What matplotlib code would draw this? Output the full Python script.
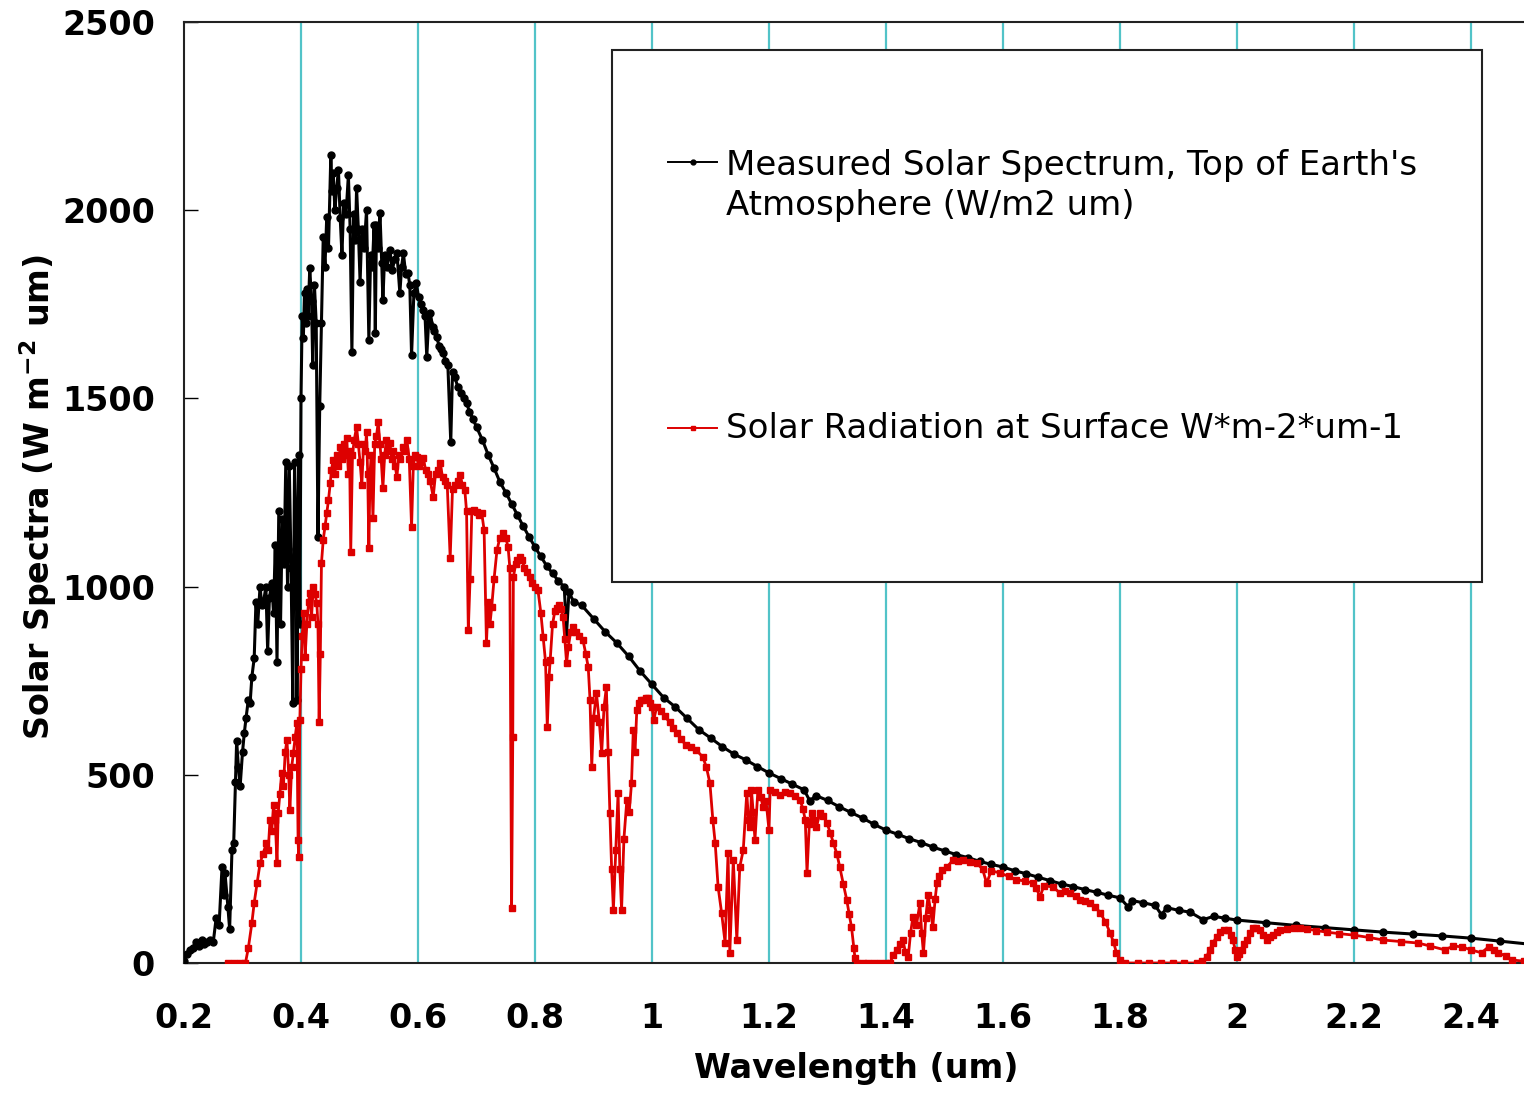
import matplotlib
matplotlib.use("Agg")
import matplotlib.pyplot as plt
from matplotlib.patches import Rectangle
from matplotlib.lines import Line2D

# top of atmosphere spectrum
toa_wl = [0.200, 0.205, 0.210, 0.215, 0.220, 0.225, 0.230, 0.235, 0.240, 0.245,
          0.250, 0.255, 0.260, 0.265, 0.268, 0.270, 0.275, 0.278, 0.282, 0.285,
          0.288, 0.290, 0.293, 0.296, 0.300, 0.303, 0.306, 0.310, 0.313, 0.316,
          0.320, 0.323, 0.326, 0.330, 0.333, 0.336, 0.340, 0.343, 0.346, 0.350,
          0.353, 0.356, 0.359, 0.362, 0.365, 0.368, 0.371, 0.374, 0.377, 0.380,
          0.383, 0.386, 0.389, 0.392, 0.393, 0.396, 0.398,
          0.400, 0.402, 0.404, 0.406, 0.408, 0.410, 0.412, 0.415, 0.418, 0.420,
          0.423, 0.426, 0.429, 0.432, 0.435, 0.438, 0.441, 0.444, 0.447, 0.451,
          0.453, 0.455, 0.458, 0.461, 0.464, 0.467, 0.470, 0.473, 0.477, 0.481,
          0.484, 0.487, 0.490, 0.493, 0.495, 0.498, 0.501, 0.504, 0.508, 0.512,
          0.516, 0.519, 0.522, 0.525, 0.527, 0.529, 0.532, 0.535, 0.538, 0.540,
          0.543, 0.547, 0.552, 0.556, 0.560, 0.564, 0.569, 0.572, 0.575, 0.579,
          0.583, 0.586, 0.589, 0.593, 0.597, 0.601, 0.605, 0.609, 0.612, 0.615,
          0.618, 0.621, 0.625, 0.628, 0.632, 0.636, 0.640, 0.643, 0.647, 0.651,
          0.656, 0.659, 0.663, 0.668, 0.673, 0.678, 0.683, 0.688, 0.694,
          0.70, 0.71, 0.72, 0.73, 0.74, 0.75, 0.76, 0.77, 0.78, 0.79,
          0.80, 0.81, 0.82, 0.83, 0.84, 0.85, 0.854, 0.858, 0.866, 0.88,
          0.90, 0.92, 0.94, 0.96, 0.98, 1.00, 1.02, 1.04, 1.06, 1.08,
          1.10, 1.12, 1.14, 1.16, 1.18, 1.20, 1.22, 1.24, 1.26, 1.27,
          1.28, 1.30, 1.32, 1.34, 1.36, 1.38, 1.40, 1.42, 1.44, 1.46,
          1.48, 1.50, 1.52, 1.54, 1.56, 1.58, 1.60, 1.62, 1.64, 1.66,
          1.68, 1.70, 1.72, 1.74, 1.76, 1.78, 1.80, 1.814, 1.82, 1.84,
          1.86, 1.871, 1.88, 1.90, 1.92, 1.942, 1.96, 1.98, 2.00, 2.05,
          2.10, 2.15, 2.20, 2.25, 2.30, 2.35, 2.40, 2.45, 2.50]
toa_val = [5, 25, 35, 40, 55, 45, 60, 50, 55, 60,
           55, 120, 100, 255, 180, 240, 150, 90, 300, 320,
           480, 590, 520, 470, 560, 610, 650, 700, 690, 760,
           810, 960, 900, 1000, 950, 960, 1000, 830, 970, 1010,
           930, 1110, 800, 1200, 900, 1180, 1060, 1330, 1000, 1320,
           1050, 690, 1330, 1100, 700, 1350, 900,
           1500, 1720, 1660, 1780, 1700, 1790, 1720, 1846, 1760, 1590,
           1800, 1700, 1132, 1480, 1700, 1929, 1850, 1982, 1900, 2147,
           2050, 2099, 2000, 2060, 2107, 1980, 1881, 2020, 1990, 2093,
           1950, 1623, 1990, 1920, 2059, 1950, 1809, 1950, 1900, 2000,
           1655, 1880, 1850, 1960, 1674, 1960, 1900, 1993, 1860, 1761,
           1880, 1850, 1894, 1840, 1870, 1886, 1780, 1850, 1886, 1830,
           1833, 1800, 1615, 1780, 1806, 1770, 1750, 1735, 1720, 1610,
           1700, 1727, 1690, 1680, 1663, 1640, 1630, 1621, 1600, 1590,
           1384, 1570, 1557, 1530, 1515, 1500, 1488, 1465, 1445,
           1424, 1390, 1350, 1315, 1278, 1250, 1220, 1190, 1160, 1132,
           1105, 1080, 1055, 1035, 1015, 999, 877, 985, 960, 950,
           915, 880, 850, 815, 775, 740, 705, 680, 650, 620,
           598, 575, 555, 540, 522, 505, 490, 475, 460, 430,
           445, 432, 415, 400, 385, 368, 353, 342, 330, 320,
           308, 298, 288, 280, 270, 262, 255, 245, 237, 228,
           219, 210, 203, 195, 188, 180, 173, 149, 166, 160,
           153, 128, 147, 140, 135, 115, 124, 119, 114, 107,
           100, 94, 88, 82, 77, 72, 66, 58, 50]

# surface spectrum
sfc_wl = [0.275, 0.285, 0.295, 0.305, 0.310, 0.316, 0.320, 0.325, 0.330, 0.335,
          0.341, 0.344, 0.347, 0.350, 0.353, 0.356, 0.359, 0.361, 0.364, 0.367,
          0.370, 0.373, 0.376, 0.379, 0.381, 0.384, 0.387, 0.390, 0.393, 0.395,
          0.396, 0.398, 0.400, 0.402, 0.405, 0.407, 0.410, 0.413, 0.415, 0.418,
          0.421, 0.424, 0.427, 0.429, 0.431, 0.433, 0.435, 0.438, 0.441, 0.444,
          0.447, 0.450, 0.452, 0.455, 0.458, 0.461, 0.464, 0.467, 0.470, 0.473,
          0.476, 0.478, 0.481, 0.483, 0.485, 0.488, 0.491, 0.495, 0.498, 0.501,
          0.504, 0.507, 0.510, 0.512, 0.514, 0.516, 0.518, 0.520, 0.523, 0.526,
          0.529, 0.532, 0.535, 0.537, 0.540, 0.543, 0.546, 0.549, 0.552, 0.555,
          0.558, 0.561, 0.564, 0.567, 0.570, 0.574, 0.577, 0.581, 0.585, 0.589,
          0.592, 0.595, 0.598, 0.601, 0.605, 0.609, 0.613, 0.617, 0.621, 0.626,
          0.630, 0.634, 0.638, 0.642, 0.646, 0.650, 0.655, 0.659, 0.663, 0.668,
          0.672, 0.676, 0.680, 0.683, 0.686, 0.689, 0.692, 0.695, 0.700, 0.705,
          0.709, 0.713, 0.717, 0.720, 0.723, 0.726, 0.730, 0.735, 0.740, 0.745,
          0.750, 0.754, 0.757, 0.760, 0.762, 0.763, 0.767, 0.770, 0.774, 0.778,
          0.782, 0.786, 0.791, 0.795, 0.800, 0.805, 0.810, 0.814, 0.818, 0.821,
          0.824, 0.826, 0.830, 0.834, 0.837, 0.841, 0.845, 0.848, 0.851, 0.854,
          0.857, 0.861, 0.865, 0.870, 0.875, 0.882, 0.887, 0.891, 0.894, 0.897,
          0.900, 0.905, 0.910, 0.914, 0.918, 0.922, 0.925, 0.928, 0.931, 0.934,
          0.938, 0.942, 0.945, 0.948, 0.952, 0.957, 0.961, 0.965, 0.968, 0.971,
          0.974, 0.978, 0.981, 0.985, 0.989, 0.993, 0.997, 1.000, 1.003, 1.008,
          1.015, 1.022, 1.030, 1.036, 1.042, 1.050, 1.058, 1.066, 1.076, 1.087,
          1.093, 1.099, 1.104, 1.108, 1.113, 1.119, 1.125, 1.130, 1.133, 1.139,
          1.145, 1.150, 1.156, 1.162, 1.165, 1.168, 1.170, 1.173, 1.176, 1.181,
          1.186, 1.190, 1.195, 1.200, 1.202, 1.210, 1.219, 1.228, 1.236, 1.245,
          1.253, 1.258, 1.262, 1.265, 1.269, 1.273, 1.277, 1.281, 1.287, 1.293,
          1.299, 1.305, 1.310, 1.316, 1.321, 1.327, 1.333, 1.337, 1.341, 1.345,
          1.347, 1.350, 1.360, 1.370, 1.380, 1.390, 1.400, 1.407, 1.412, 1.418,
          1.424, 1.429, 1.433, 1.438, 1.442, 1.446, 1.452, 1.458, 1.461, 1.464,
          1.468, 1.472, 1.476, 1.480, 1.484, 1.487, 1.491, 1.495, 1.504, 1.515,
          1.523, 1.532, 1.543, 1.555, 1.565, 1.572, 1.580, 1.595, 1.610, 1.623,
          1.637, 1.651, 1.657, 1.663, 1.670, 1.686, 1.697, 1.706, 1.715, 1.724,
          1.732, 1.741, 1.749, 1.758, 1.766, 1.775, 1.783, 1.789, 1.794, 1.800,
          1.808, 1.830, 1.850, 1.870, 1.890, 1.910, 1.931, 1.940, 1.948, 1.953,
          1.959, 1.965, 1.971, 1.978, 1.985, 1.990, 1.993, 1.997, 2.000, 2.004,
          2.008, 2.012, 2.017, 2.022, 2.028, 2.033, 2.039, 2.045, 2.051, 2.056,
          2.062, 2.068, 2.074, 2.085, 2.097, 2.108, 2.120, 2.135, 2.153, 2.175,
          2.200, 2.225, 2.250, 2.280, 2.310, 2.330, 2.355, 2.370, 2.384, 2.400,
          2.418, 2.430, 2.440, 2.447, 2.460, 2.470, 2.490]
sfc_val = [0, 0, 0, 0, 40, 106, 160, 212, 265, 290,
           319, 300, 380, 350, 420, 380, 265, 398, 450, 505,
           470, 560, 592, 500, 406, 520, 558, 600, 638, 327,
           282, 645, 780, 870, 930, 813, 900, 960, 983, 920,
           999, 980, 956, 900, 640, 820, 1063, 1124, 1160, 1195,
           1230, 1275, 1310, 1336, 1300, 1350, 1320, 1371, 1340, 1380,
           1350, 1395, 1300, 1360, 1092, 1350, 1390, 1424, 1380, 1330,
           1270, 1380, 1360, 1411, 1300, 1103, 1300, 1350, 1182, 1380,
           1400, 1437, 1380, 1340, 1262, 1350, 1390, 1360, 1381, 1340,
           1360, 1320, 1291, 1350, 1340, 1370, 1360, 1389, 1340, 1158,
           1320, 1350, 1344, 1320, 1330, 1342, 1310, 1300, 1280, 1238,
           1300, 1310, 1328, 1290, 1280, 1270, 1076, 1260, 1270, 1280,
           1296, 1270, 1257, 1200, 885, 1020, 1200, 1204, 1198, 1190,
           1195, 1150, 850, 960, 900, 946, 1020, 1097, 1130, 1142,
           1130, 1105, 1050, 146, 600, 1025, 1060, 1070, 1079, 1070,
           1050, 1040, 1025, 1010, 1000, 991, 930, 866, 800, 627,
           760, 805, 900, 935, 943, 950, 940, 919, 860, 797,
           840, 880, 893, 880, 870, 858, 820, 786, 700, 521,
           650, 717, 640, 558, 680, 733, 560, 398, 250, 141,
           300, 452, 250, 141, 330, 433, 400, 478, 619, 560,
           672, 690, 700, 699, 705, 704, 690, 680, 646, 680,
           670, 655, 640, 625, 611, 595, 578, 575, 565, 547,
           520, 478, 380, 319, 202, 133, 53, 292, 27, 274,
           61, 255, 300, 452, 380, 361, 460, 400, 327, 460,
           440, 414, 430, 353, 460, 455, 446, 455, 452, 445,
           433, 410, 380, 239, 370, 398, 380, 361, 398, 390,
           372, 345, 319, 290, 255, 210, 167, 130, 96, 40,
           13, 0, 0, 0, 0, 0, 0, 0, 20, 35,
           50, 61, 30, 16, 80, 122, 100, 159, 80, 27,
           120, 181, 140, 96, 170, 212, 230, 247, 255, 274,
           270, 274, 268, 265, 250, 212, 245, 239, 230, 221,
           218, 212, 200, 175, 205, 202, 186, 190, 186, 178,
           167, 165, 159, 150, 133, 110, 80, 55, 27, 8,
           0, 0, 0, 0, 0, 0, 0, 5, 16, 35,
           53, 70, 82, 88, 88, 75, 61, 35, 16, 25,
           35, 50, 61, 80, 93, 92, 88, 75, 61, 68,
           74, 82, 88, 90, 92, 93, 90, 86, 82, 78,
           74, 68, 61, 57, 53, 45, 35, 45, 43, 35,
           27, 43, 35, 27, 18, 8, 5]

toa_label = "Measured Solar Spectrum, Top of Earth's\nAtmosphere (W/m2 um)"
sfc_label = "Solar Radiation at Surface W*m-2*um-1"
x_ticks = [0.2, 0.4, 0.6, 0.8, 1.0, 1.2, 1.4, 1.6, 1.8, 2.0, 2.2, 2.4]
x_ticklabels = ["0.2", "0.4", "0.6", "0.8", "1", "1.2", "1.4", "1.6", "1.8", "2", "2.2", "2.4"]
y_ticks = [0, 500, 1000, 1500, 2000, 2500]

grid_col = "#52c3c8"
red = "#dd0000"

fig = plt.figure(figsize=(15.24, 10.93), dpi=100)
ax = fig.add_axes([184 / 1524, 130 / 1093, 1345.5 / 1524, 941 / 1093])

for xv in x_ticks[1:]:
    ax.axvline(xv, color=grid_col, lw=1.6, zorder=0)

ax.plot(toa_wl, toa_val, color="black", lw=2.2, marker="o", ms=5, zorder=3)
ax.plot(sfc_wl, sfc_val, color=red, lw=2.0, marker="s", ms=4.5, zorder=4)

ax.set_xlim(0.2, 2.5)
ax.set_ylim(0, 2500)
ax.set_xticks(x_ticks)
ax.set_xticklabels(x_ticklabels)
ax.set_yticks(y_ticks)
ax.tick_params(axis="x", length=0, pad=28, labelsize=24)
ax.tick_params(axis="y", direction="in", length=10, width=1, pad=21, labelsize=24)
for lab in ax.get_xticklabels() + ax.get_yticklabels():
    lab.set_fontweight("bold")
for s in ax.spines.values():
    s.set_linewidth(1.5)
    s.set_color("#222222")

ax.set_xlabel("Wavelength (um)", fontsize=24, fontweight="bold", labelpad=12)
fig.text(38 / 1524, 1 - 497 / 1093, "Solar Spectra (W m$^{\\mathbf{-2}}$ um)", rotation=90,
         fontsize=24, fontweight="bold", ha="center", va="center")

# legend box drawn by hand to keep the original spacing
ax.add_patch(Rectangle((0.318, 0.405), 0.647, 0.565, transform=ax.transAxes,
                       facecolor="white", edgecolor="#222222", lw=1.5, zorder=10))
ax.add_line(Line2D([0.3595, 0.396], [0.851, 0.851], transform=ax.transAxes,
                   color="black", lw=1.4, zorder=11))
ax.add_line(Line2D([0.378], [0.851], transform=ax.transAxes, color="black",
                   marker="o", ms=3.5, zorder=11))
ax.text(0.403, 0.8265, toa_label, transform=ax.transAxes, fontsize=24.5,
        va="center", ha="left", linespacing=1.25, zorder=11)
ax.add_line(Line2D([0.3595, 0.396], [0.5685, 0.5685], transform=ax.transAxes,
                   color=red, lw=1.4, zorder=11))
ax.add_line(Line2D([0.378], [0.5685], transform=ax.transAxes, color=red,
                   marker="s", ms=3.5, zorder=11))
ax.text(0.403, 0.5685, sfc_label, transform=ax.transAxes, fontsize=24.5,
        va="center", ha="left", zorder=11)

fig.savefig("out.png", dpi=100)
